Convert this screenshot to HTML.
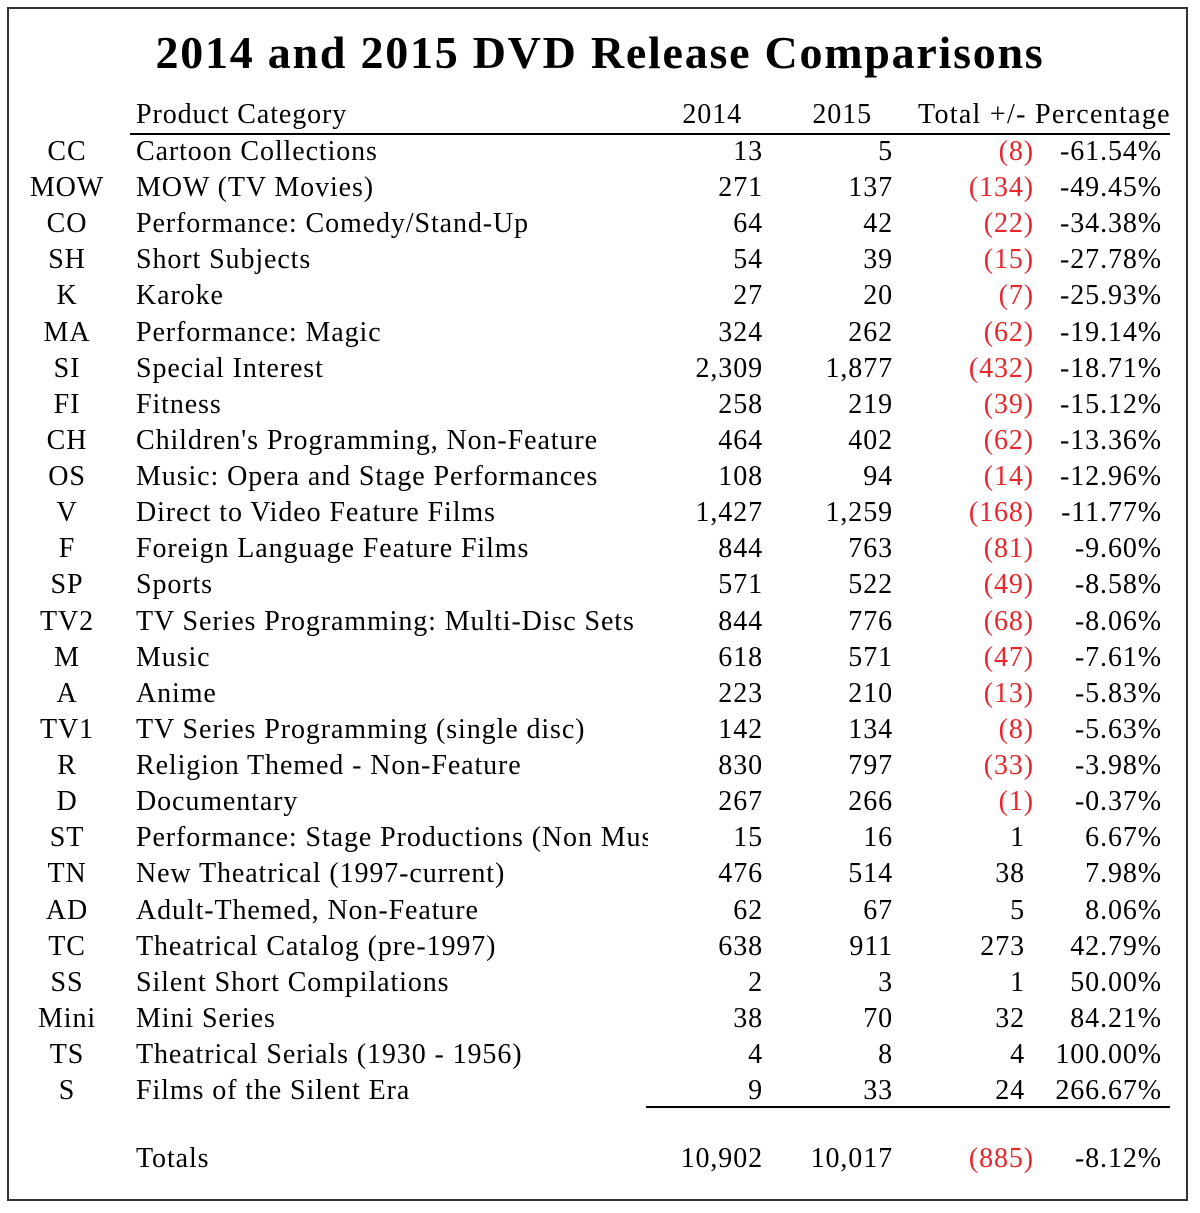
<!DOCTYPE html>
<html><head><meta charset="utf-8"><style>
body{margin:0;width:1200px;height:1213px;background:#fff;position:relative;overflow:hidden;font-family:"Liberation Serif","DejaVu Serif",serif;color:#000}
.box{position:absolute;left:7px;top:7px;width:1181px;height:1194px;border:2px solid #333;box-sizing:border-box}
.t{position:absolute;white-space:nowrap;font-size:28px;line-height:32px;letter-spacing:0.9px}
.r{text-align:right}
.red{color:#e8262b}
#title{position:absolute;left:0;width:1200px;top:26px;text-align:center;font-weight:bold;font-size:46px;line-height:54px;letter-spacing:1.75px}
.hr{position:absolute;height:2px;background:#000}
</style></head><body>
<div class="box"></div>
<div id="title">2014 and 2015 DVD Release Comparisons</div>
<div class="t" style="left:136px;top:99px">Product Category</div>
<div class="t r" style="left:620px;width:122px;top:99px">2014</div>
<div class="t r" style="left:750px;width:122px;top:99px">2015</div>
<div class="t" style="left:918px;top:99px;letter-spacing:1.3px">Total +/- Percentage</div>
<div class="hr" style="left:130px;width:1040px;top:133px"></div>
<div class="hr" style="left:646px;width:524px;top:1106px"></div>
<div id="rows"></div>
<script>
const codes=["CC","MOW","CO","SH","K","MA","SI","FI","CH","OS","V","F","SP","TV2","M","A","TV1","R","D","ST","TN","AD","TC","SS","Mini","TS","S"];
const categories=["Cartoon Collections","MOW (TV Movies)","Performance: Comedy/Stand-Up","Short Subjects","Karoke","Performance: Magic","Special Interest","Fitness","Children's Programming, Non-Feature","Music: Opera and Stage Performances","Direct to Video Feature Films","Foreign Language Feature Films","Sports","TV Series Programming: Multi-Disc Sets","Music","Anime","TV Series Programming (single disc)","Religion Themed - Non-Feature","Documentary","Performance: Stage Productions (Non Musical)","New Theatrical (1997-current)","Adult-Themed, Non-Feature","Theatrical Catalog (pre-1997)","Silent Short Compilations","Mini Series","Theatrical Serials (1930 - 1956)","Films of the Silent Era"];
const v2014=[13,271,64,54,27,324,2309,258,464,108,1427,844,571,844,618,223,142,830,267,15,476,62,638,2,38,4,9];
const v2015=[5,137,42,39,20,262,1877,219,402,94,1259,763,522,776,571,210,134,797,266,16,514,67,911,3,70,8,33];
const fmt=n=>n.toLocaleString('en-US');
const root=document.getElementById('rows');
function cell(txt,style,cls,name){const d=document.createElement('div');d.className='t '+(cls||'');d.style.cssText=style;d.textContent=txt;


root.appendChild(d);}
function diffCell(diff,top,name){
 if(diff<0)cell('('+fmt(-diff)+')','left:880px;width:154px;top:'+top+'px','r red',name);
 else cell(fmt(diff),'left:880px;width:145px;top:'+top+'px','r',name);}
const y0=136,step=36.12;
codes.forEach((c,i)=>{
 const top=y0+i*step;
 cell(c,'left:17px;width:100px;text-align:center;top:'+top+'px','','row-code');
 cell(categories[i],'left:136px;top:'+top+'px;max-width:512px;overflow:hidden','','row-category');
 cell(fmt(v2014[i]),'left:623px;width:140px;top:'+top+'px','r','row-2014');
 cell(fmt(v2015[i]),'left:753px;width:140px;top:'+top+'px','r','row-2015');
 const d=v2015[i]-v2014[i];
 diffCell(d,top,'row-diff');
 cell((d/v2014[i]*100).toFixed(2)+'%','left:1020px;width:142px;top:'+top+'px','r','row-percentage');
});
const t14=v2014.reduce((a,b)=>a+b,0),t15=v2015.reduce((a,b)=>a+b,0);
const ty=1143;
cell('Totals','left:136px;top:'+ty+'px','','totals-label');
cell(fmt(t14),'left:623px;width:140px;top:'+ty+'px','r','totals-2014');
cell(fmt(t15),'left:753px;width:140px;top:'+ty+'px','r','totals-2015');
diffCell(t15-t14,ty,'totals-diff');
cell(((t15-t14)/t14*100).toFixed(2)+'%','left:1020px;width:142px;top:'+ty+'px','r','totals-percentage');
</script>
</body></html>
